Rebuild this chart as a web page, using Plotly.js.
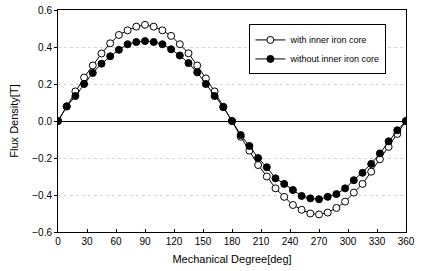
<!DOCTYPE html>
<html><head><meta charset="utf-8">
<script src="https://cdn.plot.ly/plotly-3.0.1.min.js"></script>
<style>html,body{margin:0;padding:0;background:#fff}#chart{width:424px;height:271px}</style>
</head><body><div id="chart"></div>
<script>
var degrees = [0,9,18,27,36,45,54,63,72,81,90,99,108,117,126,135,144,153,162,171,180,189,198,207,216,225,234,243,252,261,270,279,288,297,306,315,324,333,342,351,360];
var withCore = [0,0.08,0.16,0.235,0.30,0.365,0.42,0.465,0.49,0.51,0.52,0.51,0.49,0.46,0.415,0.366,0.30,0.23,0.16,0.077,0,-0.085,-0.16,-0.238,-0.30,-0.364,-0.41,-0.454,-0.48,-0.50,-0.505,-0.495,-0.47,-0.436,-0.387,-0.34,-0.274,-0.207,-0.14,-0.07,0];
var withoutCore = [0,0.078,0.135,0.20,0.26,0.31,0.35,0.385,0.415,0.427,0.432,0.427,0.415,0.388,0.354,0.313,0.263,0.20,0.135,0.075,0,-0.076,-0.135,-0.20,-0.25,-0.31,-0.34,-0.373,-0.405,-0.418,-0.423,-0.41,-0.395,-0.364,-0.32,-0.28,-0.232,-0.175,-0.11,-0.05,0];
var names = ["with inner iron core","without inner iron core"];

var traces = [
 {x:degrees,y:withCore,name:names[0],mode:"lines+markers",type:"scatter",
  line:{color:"#000",width:1},marker:{symbol:"circle",size:7,color:"#fff",line:{color:"#000",width:1}}},
 {x:degrees,y:withoutCore,name:names[1],mode:"lines+markers",type:"scatter",
  line:{color:"#000",width:1},marker:{symbol:"circle",size:7,color:"#000",line:{color:"#000",width:1}}}
];
var layout = {
 width:424,height:271,
 margin:{l:58,r:18,t:10,b:39},
 paper_bgcolor:"#fff",plot_bgcolor:"#fff",
 font:{family:"Liberation Sans, Arial, sans-serif",size:10,color:"#000"},
 showlegend:true,
 legend:{x:0.55,y:0.935,xanchor:"left",yanchor:"top",bordercolor:"#000",borderwidth:1,bgcolor:"#fff",
   font:{size:9},tracegroupgap:0,itemwidth:30,tracegroupgap:0},
 xaxis:{range:[0,360],tickvals:[0,30,60,90,120,150,180,210,240,270,300,330,360],
   showline:true,linecolor:"#000",linewidth:1,mirror:true,ticks:"inside",ticklen:3,tickcolor:"#000",
   showgrid:false,zeroline:false,
   title:{text:"Mechanical Degree[deg]",font:{size:11},standoff:9}},
 yaxis:{range:[-0.6,0.6],tickvals:[-0.6,-0.4,-0.2,0,0.2,0.4,0.6],tickformat:".1f",
   showline:true,linecolor:"#000",linewidth:1,mirror:true,ticks:"outside",ticklen:3,tickcolor:"#000",
   showgrid:true,gridcolor:"#d4d4d4",griddash:"dot",gridwidth:1,
   zeroline:true,zerolinecolor:"#000",zerolinewidth:1,
   title:{text:"Flux Density[T]",font:{size:11},standoff:11}}
};
Plotly.newPlot("chart",traces,layout,{displayModeBar:false,staticPlot:true});
</script></body></html>
